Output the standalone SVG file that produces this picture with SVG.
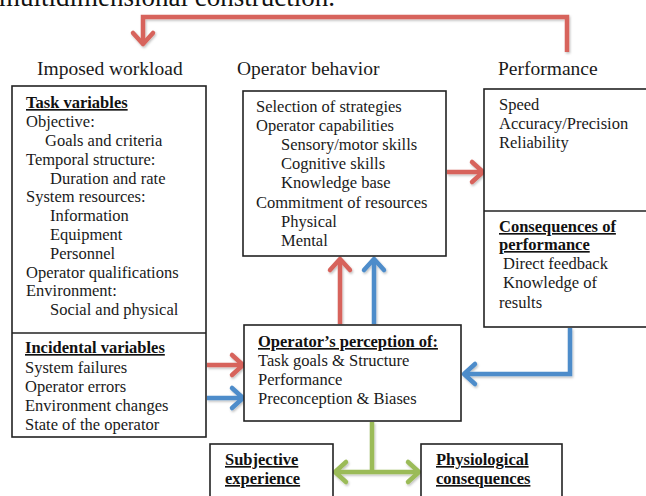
<svg xmlns="http://www.w3.org/2000/svg" width="646" height="496" viewBox="0 0 646 496">
<style>
  .t { font-family: "Liberation Serif", "Times New Roman", serif; font-size: 16.5px; fill: #1a1a1a; }
  .b { font-weight: bold; text-decoration: underline; fill: #111; }
  .h { font-family: "Liberation Serif", "Times New Roman", serif; font-size: 19.5px; fill: #1a1a1a; }
  .box { fill: #ffffff; stroke: #222222; stroke-width: 1.6; }
  .div { stroke: #222222; stroke-width: 1.6; }
  .red { fill: none; stroke: #d7645c; stroke-width: 4.5; }
  .blue { fill: none; stroke: #4d8cca; stroke-width: 4.5; }
  .green { fill: none; stroke: #9bbb59; stroke-width: 4.5; }
</style>
<defs>
  <filter id="sh" x="-20%" y="-20%" width="140%" height="140%">
    <feDropShadow dx="1" dy="1.5" stdDeviation="1" flood-color="#000" flood-opacity="0.25"/>
  </filter>
  <marker id="ah-red" markerUnits="userSpaceOnUse" markerWidth="30" markerHeight="30" viewBox="-15 -15 30 30" refX="0" refY="0" orient="auto" overflow="visible">
    <path d="M-11,-10 L0,0 L-11,10" fill="none" stroke="#d7645c" stroke-width="4.5" stroke-linecap="round" stroke-linejoin="round"/>
  </marker>
  <marker id="ah-blue" markerUnits="userSpaceOnUse" markerWidth="30" markerHeight="30" viewBox="-15 -15 30 30" refX="0" refY="0" orient="auto" overflow="visible">
    <path d="M-11,-10 L0,0 L-11,10" fill="none" stroke="#4d8cca" stroke-width="4.5" stroke-linecap="round" stroke-linejoin="round"/>
  </marker>
  <marker id="ah-green" markerUnits="userSpaceOnUse" markerWidth="30" markerHeight="30" viewBox="-15 -15 30 30" refX="0" refY="0" orient="auto-start-reverse" overflow="visible">
    <path d="M-11,-10 L0,0 L-11,10" fill="none" stroke="#9bbb59" stroke-width="4.5" stroke-linecap="round" stroke-linejoin="round"/>
  </marker>
</defs>
<rect width="646" height="496" fill="#ffffff"/>

<text x="-1" y="6" style="font-family: 'Liberation Serif', 'Times New Roman', serif; font-size: 27px; fill: #111;">multidimensional construction.</text>

<g id="headers">
  <text class="h" x="37" y="75">Imposed workload</text>
  <text class="h" x="237" y="75">Operator behavior</text>
  <text class="h" x="498" y="75">Performance</text>
</g>

<g id="connectors" filter="url(#sh)">
  <path class="red" d="M567,52 L567,17 L143,17 L143,44" marker-end="url(#ah-red)"/>
  <path class="red" d="M447,172 L483,172" marker-end="url(#ah-red)"/>
  <path class="red" d="M207,365 L243,365" marker-end="url(#ah-red)"/>
  <path class="blue" d="M207,398 L243,398" marker-end="url(#ah-blue)"/>
  <path class="red" d="M340,324 L340,259" marker-end="url(#ah-red)"/>
  <path class="blue" d="M374,324 L374,259" marker-end="url(#ah-blue)"/>
  <path class="blue" d="M570,328 L570,374 L464,374" marker-end="url(#ah-blue)"/>
  <path class="green" d="M372,422 L372,472"/>
  <path class="green" d="M335,472 L419,472" marker-start="url(#ah-green)" marker-end="url(#ah-green)"/>
</g>

<g id="imposed-workload">
  <rect class="box" x="12" y="86" width="194" height="351"/>
  <line class="div" x1="12" y1="333" x2="206" y2="333"/>
  <text class="t b" x="26" y="108">Task variables</text>
  <text class="t" x="26" y="127">Objective:</text>
  <text class="t" x="45" y="146">Goals and criteria</text>
  <text class="t" x="26" y="165">Temporal structure:</text>
  <text class="t" x="50" y="184">Duration and rate</text>
  <text class="t" x="26" y="202">System resources:</text>
  <text class="t" x="50" y="221">Information</text>
  <text class="t" x="50" y="240">Equipment</text>
  <text class="t" x="50" y="259">Personnel</text>
  <text class="t" x="26" y="278">Operator qualifications</text>
  <text class="t" x="26" y="296">Environment:</text>
  <text class="t" x="50" y="315">Social and physical</text>
  <text class="t b" x="25" y="353">Incidental variables</text>
  <text class="t" x="25" y="373">System failures</text>
  <text class="t" x="25" y="392">Operator errors</text>
  <text class="t" x="25" y="411">Environment changes</text>
  <text class="t" x="25" y="430">State of the operator</text>
</g>

<g id="operator-behavior">
  <rect class="box" x="243" y="91" width="203" height="165"/>
  <text class="t" x="256" y="112">Selection of strategies</text>
  <text class="t" x="256" y="131">Operator capabilities</text>
  <text class="t" x="281" y="150">Sensory/motor skills</text>
  <text class="t" x="281" y="169">Cognitive skills</text>
  <text class="t" x="281" y="188">Knowledge base</text>
  <text class="t" x="256" y="208">Commitment of resources</text>
  <text class="t" x="281" y="227">Physical</text>
  <text class="t" x="281" y="246">Mental</text>
</g>

<g id="performance">
  <rect class="box" x="484" y="89" width="175" height="238"/>
  <line class="div" x1="484" y1="211" x2="659" y2="211"/>
  <text class="t" x="499" y="110">Speed</text>
  <text class="t" x="499" y="129">Accuracy/Precision</text>
  <text class="t" x="499" y="148">Reliability</text>
  <text class="t b" x="499" y="232">Consequences of</text>
  <text class="t b" x="499" y="250">performance</text>
  <text class="t" x="503" y="269">Direct feedback</text>
  <text class="t" x="503" y="288">Knowledge of</text>
  <text class="t" x="499" y="308">results</text>
</g>

<g id="operator-perception">
  <rect class="box" x="244" y="325" width="217" height="96"/>
  <text class="t b" x="258" y="347">Operator’s perception of:</text>
  <text class="t" x="258" y="366">Task goals &amp; Structure</text>
  <text class="t" x="258" y="385">Performance</text>
  <text class="t" x="258" y="404">Preconception &amp; Biases</text>
</g>

<g id="subjective-experience">
  <rect class="box" x="210" y="444" width="123" height="62"/>
  <text class="t b" x="225" y="465">Subjective</text>
  <text class="t b" x="225" y="484">experience</text>
</g>

<g id="physiological-consequences">
  <rect class="box" x="421" y="444" width="141" height="62"/>
  <text class="t b" x="436" y="465">Physiological</text>
  <text class="t b" x="436" y="484">consequences</text>
</g>
</svg>
